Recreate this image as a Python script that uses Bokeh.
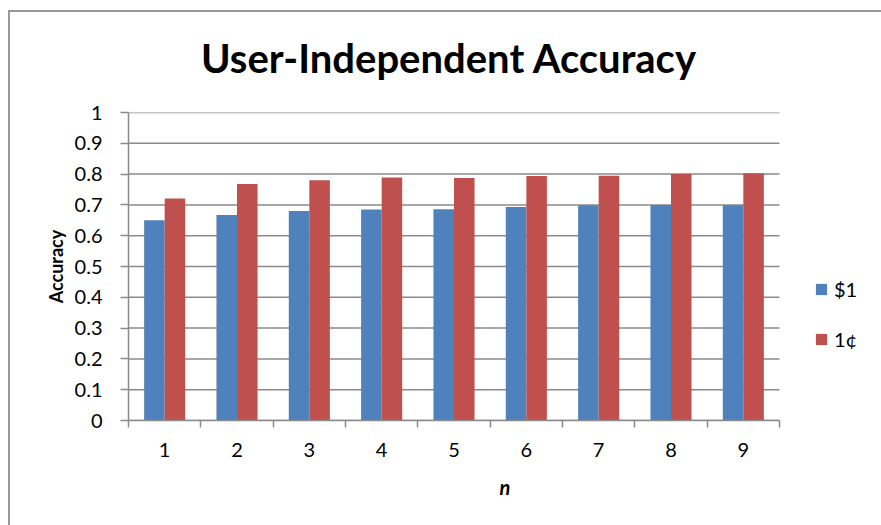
from bokeh.plotting import figure
from bokeh.models import (ColumnDataSource, FixedTicker, CustomJSTickFormatter,
                          Legend, LegendItem, Range1d, InlineStyleSheet)
from bokeh.transform import dodge
from bokeh.embed import file_html
from bokeh.resources import INLINE

# Accuracy for each n, per condition
n_values = [1, 2, 3, 4, 5, 6, 7, 8, 9]
acc_dollar = [0.650, 0.667, 0.680, 0.685, 0.686, 0.693, 0.699, 0.700, 0.699]
acc_cent = [0.721, 0.768, 0.780, 0.789, 0.787, 0.794, 0.795, 0.800, 0.803]
series_names = ["$1", "1\u00a2"]
y_ticks = [0, 0.1, 0.2, 0.3, 0.4, 0.5, 0.6, 0.7, 0.8, 0.9, 1.0]

BLUE = "#4F81BD"
RED = "#C0504D"
GRID = "#8A8A8A"
FONT = "Lato"

source = ColumnDataSource(dict(n=n_values, dollar=acc_dollar, cent=acc_cent))

# chart-area border drawn over the canvas (only left and top edges fall in view)
border_css = InlineStyleSheet(css="""
:host { position: relative; overflow: hidden; }
:host::after {
  content: "";
  position: absolute;
  left: 8px; top: 10px; right: 0; bottom: 0;
  border-left: 2px solid #9A9A9A;
  border-top: 2px solid #9A9A9A;
  pointer-events: none;
}
""")

# The frame runs to the right edge so the legend can sit beside the bars;
# the category axis and the gridlines stop at the last category.
cat_lo = n_values[0] - 0.5
cat_hi = n_values[-1] + 0.5
cat_px = 651 / len(n_values)
frame_w = 753
x_end = cat_lo + frame_w / cat_px

p = figure(frame_width=frame_w, frame_height=308, output_backend="svg",
           toolbar_location=None,
           x_range=Range1d(cat_lo, x_end), y_range=Range1d(0, 1),
           min_border_left=128, min_border_right=0,
           min_border_top=111, min_border_bottom=106,
           title="User-Independent Accuracy",
           stylesheets=[border_css])

p.background_fill_color = "white"
p.border_fill_color = "white"
p.outline_line_color = None

# title
p.title.align = "left"
p.title.offset = (cat_hi - cat_lo) * cat_px / 2 - 253
p.title.text_font = FONT
p.title.text_font_style = "bold"
p.title.text_font_size = "40px"
p.title.text_color = "black"
p.title.standoff = 62

# horizontal gridlines limited to the category span
p.segment(x0=cat_lo, x1=cat_hi, y0=y_ticks, y1=y_ticks,
          line_color=GRID, line_width=1.5, level="underlay")

bar_w = 0.284
r1 = p.vbar(x=dodge("n", -bar_w / 2, range=p.x_range), top="dollar", width=bar_w,
            source=source, fill_color=BLUE, line_color=None)
r2 = p.vbar(x=dodge("n", bar_w / 2, range=p.x_range), top="cent", width=bar_w,
            source=source, fill_color=RED, line_color=None)

# x axis: labels at category centres, ticks at category boundaries
xa = p.xaxis[0]
xa.bounds = (cat_lo, cat_hi)
xa.ticker = FixedTicker(ticks=n_values,
                        minor_ticks=[v - 0.5 for v in n_values] + [cat_hi])
xa.major_tick_out = 0
xa.major_tick_in = 0
xa.minor_tick_out = 7
xa.minor_tick_in = 0
xa.minor_tick_line_color = GRID
xa.minor_tick_line_width = 1.5
xa.axis_line_color = GRID
xa.axis_line_width = 1.5
xa.major_label_text_font = FONT
xa.major_label_text_font_size = "20px"
xa.major_label_text_color = "black"
xa.major_label_standoff = 15
xa.axis_label = "n"
xa.axis_label_text_font = FONT
xa.axis_label_text_font_style = "bold italic"
xa.axis_label_text_font_size = "20px"
xa.axis_label_text_color = "black"
xa.axis_label_standoff = 15

# y axis
ya = p.yaxis[0]
ya.ticker = FixedTicker(ticks=y_ticks, minor_ticks=[])
ya.formatter = CustomJSTickFormatter(code="return tick.toFixed(1).replace(/\\.0$/, '');")
ya.major_tick_out = 8
ya.major_tick_in = 0
ya.major_tick_line_color = GRID
ya.major_tick_line_width = 1.5
ya.axis_line_color = GRID
ya.axis_line_width = 1.5
ya.major_label_text_font = FONT
ya.major_label_text_font_size = "20px"
ya.major_label_text_color = "black"
ya.major_label_standoff = 18
ya.axis_label = "Accuracy"
ya.axis_label_text_font = FONT
ya.axis_label_text_font_style = "bold"
ya.axis_label_text_font_size = "18px"
ya.axis_label_text_color = "black"
ya.axis_label_standoff = 5

p.xgrid.grid_line_color = None
p.ygrid.grid_line_color = None

legend = Legend(items=[LegendItem(label=series_names[0], renderers=[r1]),
                       LegendItem(label=series_names[1], renderers=[r2])],
                location=(686, 69), orientation="vertical",
                glyph_width=14, glyph_height=14, label_height=20,
                spacing=26, padding=10, margin=0, label_standoff=6,
                label_text_font=FONT, label_text_font_size="20px",
                label_text_color="black",
                border_line_color=None, background_fill_alpha=0)
p.add_layout(legend)

html = file_html(p, INLINE)
# keep the page itself from scrolling
html = html.replace("</head>", "<style>html, body { overflow: hidden; }</style></head>", 1)
open("out.html", "w").write(html)
